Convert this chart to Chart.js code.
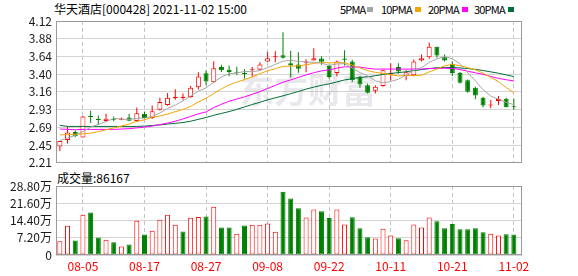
<!DOCTYPE html>
<html>
<head>
<meta charset="utf-8">
<script src="https://cdn.jsdelivr.net/npm/chart.js@4.4.1/dist/chart.umd.min.js"></script>
<style>
  body { margin: 0; background: #fff; width: 578px; height: 276px; overflow: hidden; position: relative;
         font-family: "Noto Sans CJK SC", "DejaVu Sans", sans-serif; color: #000; }
  .txt { position: absolute; font-size: 12px; line-height: 12px; white-space: nowrap; }
  .leg { position: absolute; font-size: 11px; line-height: 12px; letter-spacing: -0.8px; white-space: nowrap; }
  .sq { position: absolute; width: 6px; height: 5px; }
  #priceChart { position: absolute; left: 0; top: 0; }
  #volChart { position: absolute; left: 0; top: 174px; }
</style>
</head>
<body>
<div class="txt" style="left:54px;top:3px">华天酒店[000428] 2021-11-02 15:00</div>
<div class="leg" style="left:340px;top:3px">5PMA</div><div class="sq" style="left:367px;top:7px;background:#a6a6a6"></div>
<div class="leg" style="left:381px;top:3px">10PMA</div><div class="sq" style="left:415px;top:7px;background:#f5a500"></div>
<div class="leg" style="left:428px;top:3px">20PMA</div><div class="sq" style="left:462px;top:7px;background:#ff00ff"></div>
<div class="leg" style="left:474px;top:3px">30PMA</div><div class="sq" style="left:508px;top:7px;background:#006e36"></div>
<div class="txt" style="left:57px;top:172px">成交量:86167</div>

<canvas id="priceChart" width="578" height="174"></canvas>
<canvas id="volChart" width="578" height="102"></canvas>

<script>
// =========================
// DATA
// =========================

const dates = ["08-02","08-03","08-04","08-05","08-06","08-09","08-10","08-11","08-12","08-13",
  "08-16","08-17","08-18","08-19","08-20","08-23","08-24","08-25","08-26","08-27",
  "08-30","08-31","09-01","09-02","09-03","09-06","09-07","09-08","09-09","09-10",
  "09-13","09-14","09-15","09-16","09-17","09-22","09-23","09-24","09-27","09-28",
  "09-29","09-30","10-08","10-11","10-12","10-13","10-14","10-15","10-18","10-19",
  "10-20","10-21","10-22","10-25","10-26","10-27","10-28","10-29","11-01","11-02"];

const shownDates = ["08-05","08-17","08-27","09-08","09-22","10-11","10-21","11-02"];

const open = [2.431,2.516,2.626,2.551,2.839,2.795,2.773,2.799,2.79,2.821,
  2.773,2.87,2.813,2.923,2.99,3.078,3.083,3.096,3.229,3.415,
  3.296,3.50,3.464,3.433,3.415,3.455,3.464,3.575,3.632,3.66,
  3.55,3.535,3.557,3.588,3.615,3.517,3.42,3.615,3.575,3.367,
  3.256,3.18,3.243,3.40,3.50,3.384,3.389,3.588,3.632,3.774,
  3.632,3.544,3.42,3.322,3.22,3.087,2.981,3.043,3.074,2.972];

const close = [2.502,2.618,2.569,2.835,2.826,2.786,2.804,2.79,2.799,2.777,
  2.879,2.813,2.906,3.03,3.087,3.10,3.10,3.22,3.371,3.305,
  3.482,3.455,3.433,3.424,3.406,3.469,3.535,3.619,3.646,3.624,
  3.52,3.477,3.575,3.619,3.57,3.367,3.575,3.597,3.322,3.265,
  3.154,3.234,3.455,3.42,3.44,3.429,3.575,3.619,3.774,3.655,
  3.588,3.42,3.287,3.167,3.118,2.981,2.994,3.07,2.959,2.959];

const high = [2.502,2.70,2.644,2.84,2.91,2.848,2.87,2.835,2.821,2.87,
  2.954,2.901,2.981,3.087,3.149,3.20,3.145,3.243,3.429,3.455,
  3.579,3.53,3.52,3.504,3.469,3.50,3.566,3.703,3.712,3.969,
  3.72,3.699,3.606,3.752,3.646,3.53,3.588,3.726,3.597,3.384,
  3.278,3.256,3.464,3.55,3.55,3.455,3.601,3.668,3.832,3.774,
  3.668,3.579,3.433,3.331,3.234,3.101,3.056,3.11,3.087,3.074];

const low = [2.369,2.47,2.556,2.55,2.746,2.724,2.764,2.768,2.782,2.768,
  2.764,2.804,2.799,2.914,2.98,3.06,3.06,3.087,3.198,3.256,
  3.287,3.433,3.375,3.39,3.344,3.367,3.455,3.566,3.566,3.615,
  3.36,3.424,3.429,3.588,3.53,3.344,3.375,3.522,3.30,3.22,
  3.145,3.145,3.234,3.32,3.41,3.322,3.375,3.575,3.61,3.624,
  3.575,3.38,3.278,3.154,3.065,2.954,2.946,2.99,2.959,2.923];

const ma5 = [2.51,2.545,2.58,2.63,2.69,2.727,2.764,2.808,2.801,2.791,
  2.81,2.812,2.835,2.881,2.943,2.987,3.045,3.107,3.176,3.219,
  3.296,3.367,3.409,3.42,3.44,3.437,3.453,3.491,3.535,3.579,
  3.589,3.577,3.568,3.563,3.552,3.522,3.541,3.546,3.486,3.425,
  3.383,3.314,3.286,3.306,3.335,3.39,3.458,3.491,3.561,3.61,
  3.642,3.611,3.545,3.423,3.316,3.195,3.109,3.066,3.024,2.993];

const ma10 = [2.585,2.59,2.595,2.60,2.61,2.63,2.655,2.68,2.705,2.731,
  2.769,2.788,2.822,2.841,2.867,2.899,2.928,2.971,3.028,3.081,
  3.141,3.206,3.258,3.298,3.33,3.367,3.41,3.45,3.477,3.509,
  3.513,3.515,3.53,3.549,3.565,3.555,3.559,3.557,3.525,3.489,
  3.452,3.428,3.416,3.396,3.38,3.386,3.386,3.388,3.434,3.473,
  3.516,3.535,3.518,3.492,3.463,3.418,3.36,3.305,3.224,3.154];

const ma20 = [2.665,2.66,2.655,2.66,2.66,2.66,2.66,2.66,2.665,2.67,
  2.68,2.69,2.705,2.725,2.745,2.77,2.80,2.835,2.87,2.895,
  2.955,2.997,3.04,3.069,3.098,3.133,3.169,3.211,3.253,3.295,
  3.327,3.36,3.394,3.423,3.448,3.461,3.485,3.503,3.501,3.499,
  3.483,3.472,3.473,3.472,3.473,3.471,3.473,3.473,3.479,3.481,
  3.484,3.481,3.467,3.444,3.422,3.402,3.373,3.347,3.329,3.313];

const ma30 = [2.715,2.70,2.70,2.70,2.70,2.70,2.70,2.70,2.70,2.70,
  2.70,2.705,2.712,2.72,2.732,2.742,2.752,2.77,2.795,2.82,
  2.85,2.875,2.90,2.93,2.962,2.995,3.025,3.058,3.085,3.112,
  3.141,3.17,3.203,3.229,3.254,3.273,3.299,3.326,3.343,3.36,
  3.369,3.383,3.401,3.414,3.425,3.436,3.452,3.465,3.479,3.49,
  3.494,3.493,3.488,3.479,3.469,3.453,3.435,3.417,3.394,3.372];

// volume in 万 (10k shares)
const volume = [5.7,12.2,6.1,16.75,17.7,7.3,6.4,5.3,3.5,4.4,
  14.3,8.6,10.1,14.7,16.75,12.6,9.8,15.5,15.9,16.1,
  20.1,11.5,11.5,8.9,12.3,12.6,12.6,13.2,9.7,26.4,
  23.6,19.5,15.7,19.0,18.3,15.4,19.0,12.7,15.8,11.2,
  7.4,6.85,11.0,8.1,7.0,6.15,12.7,11.5,15.7,14.1,
  11.2,12.9,10.8,10.8,11.2,9.5,8.9,8.1,8.7,8.6];

// R = up day, G = down day (volume bar colour)
const volDir = ("RRGRGGRGRG" + "RGRRRRGRRG" + "RGGRGRRRRG" +
                "GGRRGGRRGG" + "GRRRGRRRRG" + "GGGGGGRRGG").split("");

const priceTicks = ["2.21","2.45","2.69","2.93","3.16","3.40","3.64","3.88","4.12"];
const volTicks = ["0","7.20万","14.40万","21.60万","28.80万"];

// =========================
// HELPERS
// =========================

const RED = "#ff0000";
const GREEN = "#008000";
const FONT = "'Noto Sans CJK SC', 'DejaVu Sans', sans-serif";
const tickIdx = shownDates.map((d) => dates.indexOf(d));
const isUp = open.map((o, i) => close[i] >= o);
const pts = (arr) => arr.map((v, i) => ({ x: i, y: v }));

const boxPlugin = {
  id: "box",
  afterDraw(chart) {
    const a = chart.chartArea;
    const ctx = chart.ctx;
    ctx.save();
    ctx.strokeStyle = "#9a9a9a";
    ctx.lineWidth = 1;
    ctx.strokeRect(Math.round(a.left) + 0.5, Math.round(a.top) + 0.5,
      Math.round(a.right - a.left) - 1, Math.round(a.bottom - a.top) - 1);
    ctx.restore();
  },
};

const watermark = {
  id: "watermark",
  beforeDatasetsDraw(chart) {
    const ctx = chart.ctx;
    ctx.save();
    ctx.font = "bold 34px " + FONT;
    ctx.fillStyle = "rgba(180,180,195,0.3)";
    ctx.textBaseline = "middle";
    ctx.fillText("东方财富", 240, 90);
    ctx.restore();
  },
};

const xBase = {
  type: "linear",
  min: -0.5,
  max: 60.06,
  offset: false,
  afterBuildTicks(s) {
    s.ticks = tickIdx.map((v) => ({ value: v }));
  },
  grid: { color: "#c4c4c4", drawTicks: false, offset: false },
  border: { display: false, dash: [4, 3] },
};

// =========================
// PRICE CHART
// =========================

const lineSet = (label, arr, color) => ({
  type: "line",
  label: label,
  data: pts(arr),
  borderColor: color,
  borderWidth: 1,
  pointRadius: 0,
  tension: 0,
  order: 0,
});

const priceChart = new Chart(document.getElementById("priceChart"), {
  data: {
    datasets: [
      lineSet("MA5", ma5, "#a6a6a6"),
      lineSet("MA10", ma10, "#f5a500"),
      lineSet("MA20", ma20, "#ff00ff"),
      lineSet("MA30", ma30, "#006e36"),
      {
        type: "bar",
        label: "body",
        data: open.map((o, i) => ({ x: i, y: [o, close[i]] })),
        backgroundColor: isUp.map((u) => (u ? "#ffffff" : GREEN)),
        borderColor: isUp.map((u) => (u ? RED : GREEN)),
        borderWidth: 1,
        borderSkipped: false,
        barThickness: 5,
        minBarLength: 1,
        inflateAmount: 0,
        grouped: false,
        order: 1,
      },
      {
        type: "bar",
        label: "wick",
        data: low.map((l, i) => ({ x: i, y: [l, high[i]] })),
        backgroundColor: isUp.map((u) => (u ? RED : GREEN)),
        borderWidth: 0,
        barThickness: 1,
        inflateAmount: 0,
        grouped: false,
        order: 2,
      },
    ],
  },
  options: {
    responsive: false,
    animation: false,
    layout: { padding: { left: 0, right: 56, top: 21, bottom: 9 } },
    plugins: { legend: { display: false }, tooltip: { enabled: false } },
    scales: {
      x: Object.assign({}, xBase, {
        afterFit(s) { s.height = 0; },
        ticks: { display: false },
      }),
      y: {
        min: 2.21,
        max: 4.12,
        beginAtZero: false,
        afterFit(s) { s.width = 56; },
        afterBuildTicks(s) {
          s.ticks = priceTicks.map((t, k) => ({ value: 2.21 + (k * (4.12 - 2.21)) / 8 }));
        },
        ticks: {
          callback: (v, i) => priceTicks[i],
          color: "#1a1a1a",
          padding: 4,
          autoSkip: false,
          font: { size: 12, family: FONT },
        },
        grid: { color: "#d4d4d4", drawTicks: false },
        border: { display: false },
      },
    },
  },
  plugins: [watermark, boxPlugin],
});

// =========================
// VOLUME CHART
// =========================

const volChart = new Chart(document.getElementById("volChart"), {
  data: {
    datasets: [
      {
        type: "bar",
        label: "volume",
        data: pts(volume),
        backgroundColor: volDir.map((d) => (d === "R" ? "#ffffff" : GREEN)),
        borderColor: volDir.map((d) => (d === "R" ? RED : GREEN)),
        borderWidth: 1,
        borderSkipped: false,
        barThickness: 5,
        inflateAmount: 0,
        grouped: false,
      },
    ],
  },
  options: {
    responsive: false,
    animation: false,
    layout: { padding: { left: 0, right: 56, top: 12, bottom: 0 } },
    plugins: { legend: { display: false }, tooltip: { enabled: false } },
    scales: {
      x: Object.assign({}, xBase, {
        afterFit(s) { s.height = 21; },
        ticks: {
          callback: (v) => dates[v],
          color: RED,
          padding: 4,
          maxRotation: 0,
          autoSkip: false,
          font: { size: 12, family: FONT },
        },
      }),
      y: {
        min: 0,
        max: 28.8,
        afterFit(s) { s.width = 56; },
        afterBuildTicks(s) {
          s.ticks = volTicks.map((t, k) => ({ value: k * 7.2 }));
        },
        ticks: {
          callback: (v, i) => volTicks[i],
          color: "#1a1a1a",
          padding: 4,
          autoSkip: false,
          font: { size: 12, family: FONT },
        },
        grid: { color: "#d4d4d4", drawTicks: false },
        border: { display: false },
      },
    },
  },
  plugins: [boxPlugin],
});
</script>
</body>
</html>
